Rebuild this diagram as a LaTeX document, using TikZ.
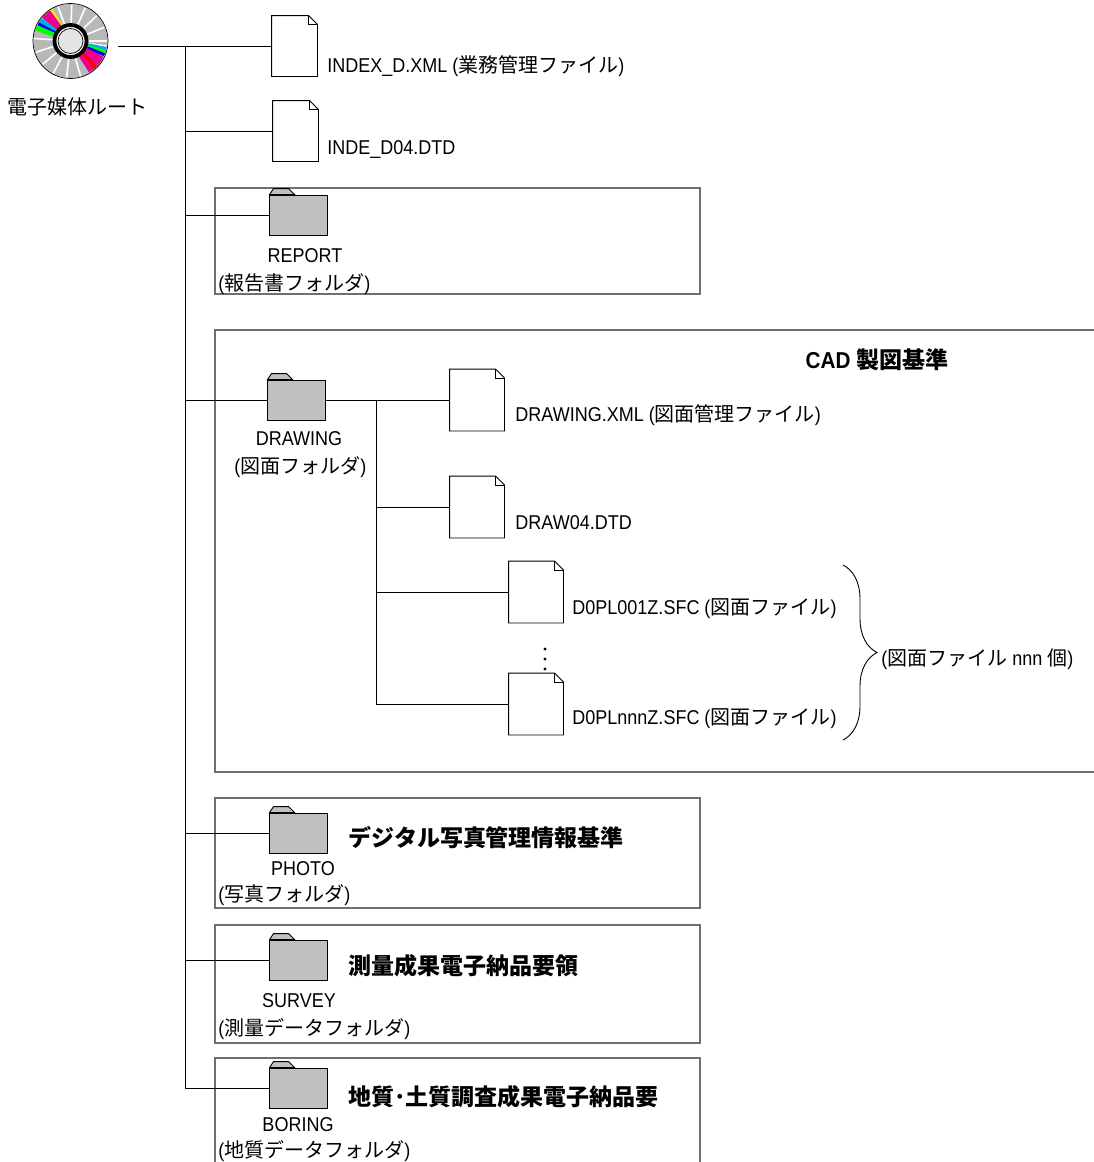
\documentclass[tikz,border=0pt]{standalone}
\usepackage{fontspec}
\setmainfont{Liberation Sans}[FakeStretch=0.9]
\newfontfamily\jpfont{Noto Sans CJK JP}
\newcommand\jp[1]{{\jpfont #1}}
\usetikzlibrary{positioning, decorations.pathreplacing}

\definecolor{foldergray}{HTML}{C0C0C0}
\definecolor{framegray}{HTML}{707070}
\definecolor{cdgray}{HTML}{B8B8B8}
\definecolor{cdhub}{HTML}{E4E4E4}

\tikzset{
  lbl/.style = {font=\fontsize{20}{24}\selectfont, inner sep=0pt},
  head/.style = {font=\fontsize{23}{28}\selectfont\bfseries, inner sep=0pt},
  frame/.style = {draw=framegray, line width=1.3pt},
  file/.style = {minimum width=54pt, minimum height=61pt, inner sep=0pt,
    append after command={\pgfextra{\let\thisnode\tikzlastnode
      \draw[fill=white] (\thisnode.north west) -- ([xshift=-9pt]\thisnode.north east)
        -- ([yshift=-9pt]\thisnode.north east) -- (\thisnode.south east)
        -- (\thisnode.south west) -- cycle;
      \draw ([xshift=-9pt]\thisnode.north east) -- ([xshift=-9pt,yshift=-9pt]\thisnode.north east)
        -- ([yshift=-9pt]\thisnode.north east);}}},
  smallfile/.style = {file, minimum width=45pt, minimum height=60pt},
  folder/.style = {draw, fill=foldergray, minimum width=58pt, minimum height=40pt, inner sep=0pt,
    append after command={\pgfextra{\let\thisnode\tikzlastnode
      \draw[fill=foldergray] ([xshift=1pt]\thisnode.north west) -- ([xshift=5pt,yshift=6pt]\thisnode.north west)
        -- ([xshift=20pt,yshift=6pt]\thisnode.north west) -- ([xshift=26pt]\thisnode.north west) -- cycle;}}},
}

\begin{document}
\begin{tikzpicture}[x=1pt, y=-1pt, line width=0.9pt]
\useasboundingbox (0,0) rectangle (1094,1162);
\clip (0,0) rectangle (1094,1162);

% frames
\draw[frame] (215,188) rectangle (700,294);
\draw[frame] (215,330) rectangle (1100,772);
\draw[frame] (215,798) rectangle (700,908);
\draw[frame] (215,925) rectangle (700,1043);
\draw[frame] (215,1058) rectangle (700,1175);

% root medium
\node[circle, minimum size=75pt, inner sep=0pt] (cd) at (70.5,41) {};
\begin{scope}[shift={(cd.center)}]
  \fill[cdgray] (0,0) circle[radius=37pt];
  \foreach \a in {8,30,...,360}
    \draw[white, line width=1.6pt] (\a:18) -- (\a:36.5);
  \foreach \a/\c in {238/yellow, 234/magenta, 230/magenta, 226/magenta, 222/magenta,
                     216/cyan, 212/cyan, 208/blue, 203/green, 199/green,
                     12/cyan, 17/green, 22/blue, 28/magenta, 32/magenta, 36/magenta,
                     40/magenta, 45/red, 49/red, 53/magenta, 57/magenta}
    \draw[\c, line width=3pt] (\a:18) -- (\a:36.5);
  \draw[line width=0.7pt] (0,0) circle[radius=37.5pt];
  \fill[white] (0,0) circle[radius=16pt];
  \draw[line width=3.8pt] (0,0) circle[radius=16pt];
  \fill[cdhub] (0,0) circle[radius=12pt];
  \draw[line width=0.7pt] (0,0) circle[radius=12.5pt];
\end{scope}
\node[lbl] (root) at (78,107) {\jp{電子媒体ルート}};

% first level
\node[smallfile] (idx) at (294.5,46) {};
\node[smallfile] (dtd) at (295.5,131) {};
\node[folder] (rep) at (298,215) {};
\node[folder] (drw) at (296,400) {};
\node[folder] (pho) at (298,833) {};
\node[folder] (sur) at (298,960) {};
\node[folder] (bor) at (298,1088) {};

% drawing folder contents
\node[file] (dxml) at (477,400) {};
\node[file] (ddtd) at (477,507) {};
\node[file] (dsfc1) at (536,592) {};
\node[file] (dsfcn) at (536,704) {};
\foreach \y in {649,659,669}
  \fill (545,\y) circle[radius=1.7pt];

% connectors
\coordinate (rootout) at (118,46);
\coordinate (trunk) at (185,46);
\coordinate (subtrunk) at (376,400);
\draw (rootout) -- (idx.west);
\draw (trunk) -- (trunk |- bor.west);
\foreach \n in {dtd, rep, drw, pho, sur, bor}
  \draw (trunk |- \n.west) -- (\n.west);
\draw (drw.east) -- (dxml.west);
\draw (subtrunk) -- (subtrunk |- dsfcn.west);
\foreach \n in {ddtd, dsfc1, dsfcn}
  \draw (subtrunk |- \n.west) -- (\n.west);

% file labels
\node[lbl, anchor=base west] (idxlbl) at (327,72) {INDEX\_D.XML (\jp{業務管理ファイル})};
\node[lbl, anchor=base west] (dtdlbl) at (327,154) {INDE\_D04.DTD};
\node[lbl, anchor=base west] (dxmllbl) at (515,421) {DRAWING.XML (\jp{図面管理ファイル})};
\node[lbl, anchor=base west] (ddtdlbl) at (515,529) {DRAW04.DTD};
\node[lbl, anchor=base west] (dsfc1lbl) at (572,614) {D0PL001Z.SFC (\jp{図面ファイル})};
\node[lbl, anchor=base west] (dsfcnlbl) at (572,724) {D0PLnnnZ.SFC (\jp{図面ファイル})};

% brace over the drawing files
\coordinate (bracetop) at (843,565);
\coordinate (bracebot) at (843,740);
\draw[decorate, decoration={brace, amplitude=34pt}] (bracetop) -- (bracebot);
\node[lbl, anchor=base west] (count) at (881,665) {(\jp{図面ファイル} nnn \jp{個})};

% folder labels
\node[lbl, anchor=base] (repname) at (305,262) {REPORT};
\node[lbl, anchor=base west] (repsub) at (218,290) {(\jp{報告書フォルダ})};
\node[lbl, anchor=base] (drwname) at (299,445) {DRAWING};
\node[lbl, anchor=base west] (drwsub) at (234,473) {(\jp{図面フォルダ})};
\node[lbl, anchor=base] (phoname) at (303,875) {PHOTO};
\node[lbl, anchor=base west] (phosub) at (218,901) {(\jp{写真フォルダ})};
\node[lbl, anchor=base] (surname) at (299,1007) {SURVEY};
\node[lbl, anchor=base west] (sursub) at (218,1035) {(\jp{測量データフォルダ})};
\node[lbl, anchor=base] (borname) at (298,1131) {BORING};
\node[lbl, anchor=base west] (borsub) at (218,1157) {(\jp{地質データフォルダ})};

% standards
\node[head, anchor=base] (cadhead) at (877,368) {CAD \jp{製図基準}};
\node[head, anchor=base west] (phohead) at (348,846) {\jp{デジタル写真管理情報基準}};
\node[head, anchor=base west] (surhead) at (348,974) {\jp{測量成果電子納品要領}};
\node[head, anchor=base west] (borhead) at (348,1105) {\jp{地質･土質調査成果電子納品要}};

\end{tikzpicture}
\end{document}
